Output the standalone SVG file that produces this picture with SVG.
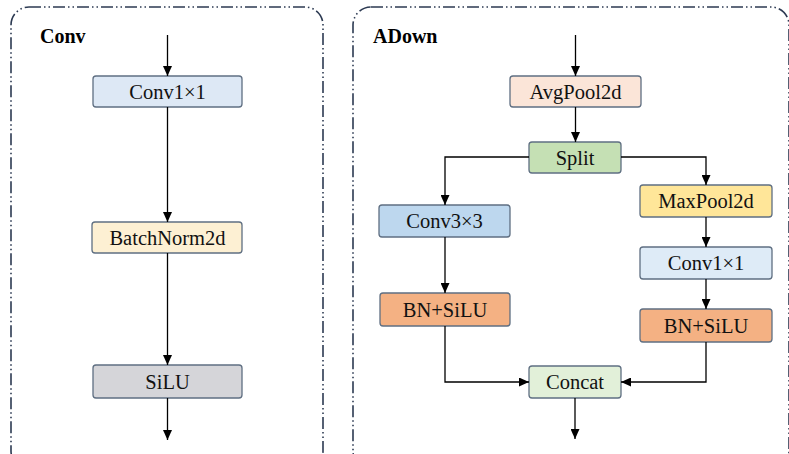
<svg xmlns="http://www.w3.org/2000/svg" width="789" height="454" viewBox="0 0 789 454">
  <defs>
    <marker id="arrow" markerUnits="userSpaceOnUse" markerWidth="10" markerHeight="9" refX="10" refY="4.5" orient="auto">
      <path d="M0,0 L10,4.5 L0,9 Z" fill="#000"/>
    </marker>
    <style>
      .panel { fill: none; stroke: #2c3a52; stroke-width: 1.6; stroke-dasharray: 12 3 1.5 3 1.5 3; }
      .title { font-family: "Liberation Serif", "Times New Roman", serif; font-size: 20px; font-weight: bold; fill: #000; }
      .box { stroke: #5f6f82; stroke-width: 1.3; }
      .lbl { font-family: "Liberation Serif", "Times New Roman", serif; font-size: 20.5px; fill: #111; text-anchor: middle; }
      .edge { fill: none; stroke: #000; stroke-width: 1.3; marker-end: url(#arrow); }
    </style>
  </defs>

  <!-- module frames -->
  <rect class="panel" x="11" y="7" width="312" height="462" rx="18"/>
  <rect class="panel" x="353" y="7" width="436" height="462" rx="18"/>
  <text class="title" x="40" y="43">Conv</text>
  <text class="title" x="373" y="43">ADown</text>

  <!-- Conv block nodes -->
  <g id="conv-conv1x1">
    <rect class="box" x="93" y="76" width="149" height="31" rx="3" fill="#dde8f5"/>
    <text class="lbl" x="167.5" y="98.5">Conv1×1</text>
  </g>
  <g id="conv-batchnorm">
    <rect class="box" x="92" y="222" width="150" height="31" rx="3" fill="#fdf0d3"/>
    <text class="lbl" x="167.5" y="244.5">BatchNorm2d</text>
  </g>
  <g id="conv-silu">
    <rect class="box" x="93" y="365" width="149" height="33" rx="3" fill="#d5d5d9"/>
    <text class="lbl" x="167.5" y="388.5">SiLU</text>
  </g>

  <!-- ADown block nodes -->
  <g id="adown-avgpool">
    <rect class="box" x="510" y="76" width="131" height="31" rx="3" fill="#fbe5d8"/>
    <text class="lbl" x="575.5" y="98.5">AvgPool2d</text>
  </g>
  <g id="adown-split">
    <rect class="box" x="529" y="142" width="92" height="31" rx="3" fill="#c5e0b4"/>
    <text class="lbl" x="575" y="164.5">Split</text>
  </g>
  <g id="adown-conv3x3">
    <rect class="box" x="379" y="205" width="131" height="32" rx="3" fill="#bdd7ee"/>
    <text class="lbl" x="444.5" y="228">Conv3×3</text>
  </g>
  <g id="adown-bnsilu-left">
    <rect class="box" x="380" y="293" width="130" height="33" rx="3" fill="#f4b183"/>
    <text class="lbl" x="445" y="316.5">BN+SiLU</text>
  </g>
  <g id="adown-maxpool">
    <rect class="box" x="640" y="185" width="132" height="32" rx="3" fill="#ffe699"/>
    <text class="lbl" x="706" y="208">MaxPool2d</text>
  </g>
  <g id="adown-conv1x1">
    <rect class="box" x="640" y="247" width="132" height="32" rx="3" fill="#deebf7"/>
    <text class="lbl" x="706" y="270">Conv1×1</text>
  </g>
  <g id="adown-bnsilu-right">
    <rect class="box" x="640" y="309" width="132" height="33" rx="3" fill="#f4b183"/>
    <text class="lbl" x="706" y="332.5">BN+SiLU</text>
  </g>
  <g id="adown-concat">
    <rect class="box" x="529" y="366" width="92" height="32" rx="3" fill="#e2f0d9"/>
    <text class="lbl" x="575" y="389">Concat</text>
  </g>

  <!-- connectors -->
  <g id="connectors">
    <line class="edge" x1="167.5" y1="35" x2="167.5" y2="76"/>
    <line class="edge" x1="167.5" y1="107" x2="167.5" y2="222"/>
    <line class="edge" x1="167.5" y1="253" x2="167.5" y2="365"/>
    <line class="edge" x1="167.5" y1="398" x2="167.5" y2="440"/>

    <line class="edge" x1="575.5" y1="35" x2="575.5" y2="76"/>
    <line class="edge" x1="575.5" y1="107" x2="575.5" y2="142"/>
    <polyline class="edge" points="529,157 445,157 445,205"/>
    <polyline class="edge" points="621,157 706,157 706,185"/>
    <line class="edge" x1="445" y1="237" x2="445" y2="293"/>
    <line class="edge" x1="706" y1="217" x2="706" y2="247"/>
    <line class="edge" x1="706" y1="279" x2="706" y2="309"/>
    <polyline class="edge" points="445,326 445,382 529,382"/>
    <polyline class="edge" points="706,342 706,382 621,382"/>
    <line class="edge" x1="575" y1="398" x2="575" y2="439"/>
  </g>
</svg>
